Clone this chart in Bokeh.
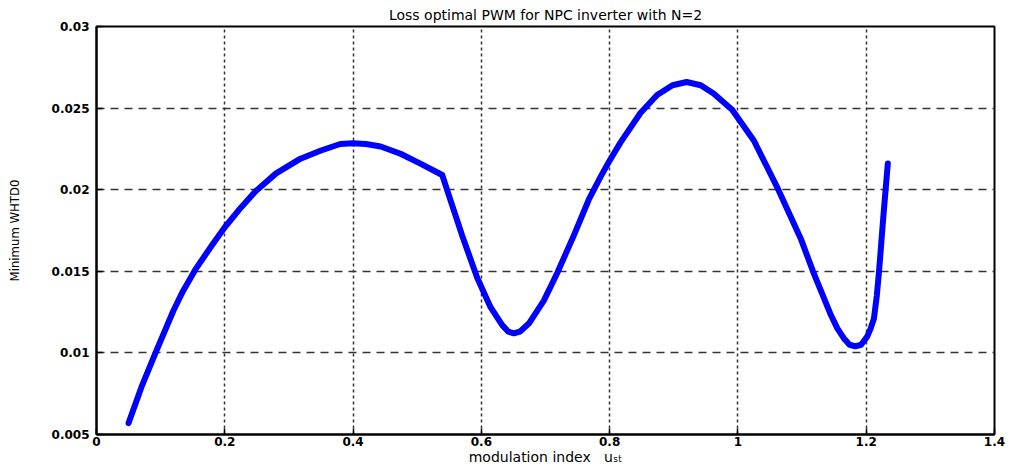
from bokeh.plotting import figure
from bokeh.models import FixedTicker, Range1d
from bokeh.embed import file_html
from bokeh.resources import INLINE

# ---- data ----
mod_index = [0.05, 0.07, 0.092, 0.12, 0.135, 0.154, 0.18, 0.2, 0.225, 0.248, 0.28, 0.318,
             0.35, 0.38, 0.40, 0.42, 0.443, 0.474, 0.505, 0.539, 0.549, 0.570, 0.5935,
             0.6143, 0.6325, 0.642, 0.6507, 0.660, 0.674, 0.6974, 0.7183, 0.7442, 0.7676,
             0.786, 0.7987, 0.817, 0.848, 0.874, 0.898, 0.92, 0.942, 0.962, 0.991, 1.025,
             1.063, 1.098, 1.117, 1.144, 1.155, 1.165, 1.174, 1.183, 1.192, 1.2015, 1.207,
             1.212, 1.2165, 1.2200, 1.2270, 1.2337]
min_whtd0 = [0.0057, 0.0079, 0.0100, 0.0126, 0.0138, 0.0151, 0.0166, 0.0177, 0.0189, 0.0199,
             0.0210, 0.0219, 0.0224, 0.0228, 0.02285, 0.0228, 0.02265, 0.0222, 0.0216, 0.0209,
             0.0197, 0.0172, 0.0146, 0.0128, 0.0117, 0.0113, 0.0112, 0.0113, 0.0118, 0.0132,
             0.0149, 0.0172, 0.0194, 0.0208, 0.0217, 0.0229, 0.0247, 0.0258, 0.0264, 0.0266,
             0.0264, 0.0259, 0.0249, 0.0230, 0.0200, 0.0170, 0.0150, 0.0124, 0.0115, 0.0109,
             0.0105, 0.0104, 0.0105, 0.0110, 0.0115, 0.0121, 0.0135, 0.0150, 0.0185, 0.0216]

x_ticks = [0, 0.2, 0.4, 0.6, 0.8, 1.0, 1.2, 1.4]
x_tick_labels = ["0", "0.2", "0.4", "0.6", "0.8", "1", "1.2", "1.4"]
y_ticks = [0.005, 0.01, 0.015, 0.02, 0.025, 0.03]
y_tick_labels = ["0.005", "0.01", "0.015", "0.02", "0.025", "0.03"]

title_text = "Loss optimal PWM for NPC inverter with N=2"
x_label_text = "modulation index\u00a0\u00a0\u00a0u\u209b\u209c"
y_label_text = "Minimum WHTD0"

# ---- figure ----
p = figure(width=1011, height=469, x_range=Range1d(0, 1.4), y_range=Range1d(0.005, 0.03),
           output_backend="svg", toolbar_location=None,
           min_border_left=96, min_border_right=17, min_border_top=24, min_border_bottom=35)
p.background_fill_color = "white"
p.border_fill_color = "white"
p.outline_line_color = "black"
p.outline_line_width = 2
p.outline_line_alpha = 1

p.title.text = title_text
p.title.align = "center"
p.title.text_font = "DejaVu Sans"
p.title.text_font_size = "14px"
p.title.text_font_style = "normal"
p.title.text_color = "black"
p.title.standoff = 8

p.line(mod_index, min_whtd0, line_color="#0000ff", line_width=6, line_join="round",
       line_cap="round")

xaxis = p.xaxis[0]
yaxis = p.yaxis[0]
xaxis.ticker = FixedTicker(ticks=x_ticks)
xaxis.major_label_overrides = {t: l for t, l in zip(x_ticks, x_tick_labels)}
yaxis.ticker = FixedTicker(ticks=y_ticks)
yaxis.major_label_overrides = {t: l for t, l in zip(y_ticks, y_tick_labels)}

for ax in [xaxis, yaxis]:
    ax.axis_line_color = "black"
    ax.axis_line_width = 2
    ax.major_tick_in = 6
    ax.major_tick_out = 0
    ax.major_tick_line_color = "black"
    ax.major_tick_line_width = 1.5
    ax.minor_tick_line_color = None
    ax.major_label_text_font = "DejaVu Sans"
    ax.major_label_text_font_style = "bold"
    ax.major_label_text_font_size = "12px"
    ax.major_label_text_color = "black"
    ax.axis_label_text_font_style = "normal"
    ax.axis_label_text_color = "black"

xaxis.major_label_standoff = 2
xaxis.axis_label = x_label_text
xaxis.axis_label_text_font = "DejaVu Sans"
xaxis.axis_label_text_font_size = "14px"
xaxis.axis_label_standoff = 0

yaxis.major_label_standoff = 7
yaxis.axis_label = y_label_text
yaxis.axis_label_text_font = "DejaVu Sans Condensed"
yaxis.axis_label_text_font_size = "13px"
yaxis.axis_label_standoff = 27

p.xgrid.grid_line_color = "#333333"
p.xgrid.grid_line_width = 1.5
p.xgrid.grid_line_dash = "3 3"
p.ygrid.grid_line_color = "#333333"
p.ygrid.grid_line_width = 1.5
p.ygrid.grid_line_dash = "8 6"
p.xgrid.ticker = FixedTicker(ticks=x_ticks)
p.ygrid.ticker = FixedTicker(ticks=y_ticks)

open("out.html", "w").write(file_html(p, INLINE))
